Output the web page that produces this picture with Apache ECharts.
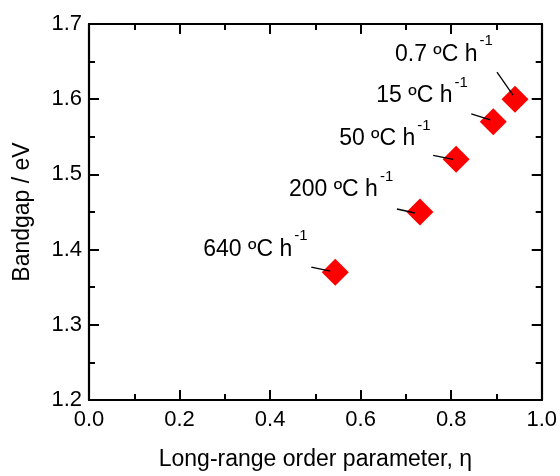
<!DOCTYPE html>
<html>
<head>
<meta charset="utf-8">
<script src="https://cdn.jsdelivr.net/npm/echarts@6/dist/echarts.min.js"></script>
<style>
  html, body { margin: 0; padding: 0; background: #fff; }
  #chart { width: 560px; height: 476px; }
</style>
</head>
<body>
<div id="chart"></div>
<script>
// Long-range order parameter and bandgap for each cooling rate
const coolingRates = ['640', '200', '50', '15', '0.7'];
const eta = [0.544, 0.731, 0.811, 0.893, 0.941];
const bandgap = [1.37, 1.45, 1.52, 1.57, 1.60];

// Axis ticks
const xTicks = { min: 0, max: 1, interval: 0.2 };
const yTicks = { min: 1.2, max: 1.7, interval: 0.1 };

// Annotation placement, in pixels relative to each marker centre
const labelOffsets = [[-132, -23], [-131, -22], [-117, -21], [-117, -26], [-120, -45]];
const leaderOffsets = [[-24, -5, -5, -1], [-23, -3, -5, 1], [-23, -4, -3, 0], [-22, -8, -3, -2], [-18, -27, -2, -4]];

const FONT = '"Liberation Sans", Arial, Helvetica, sans-serif';
const points = eta.map((x, i) => [x, bandgap[i]]);

const axisCommon = {
  axisLine: { show: true, onZero: false, lineStyle: { color: '#000', width: 2.2 } },
  axisTick: { show: true, inside: true, length: 10, lineStyle: { color: '#000', width: 2 } },
  minorTick: { show: true, splitNumber: 2, length: 6, lineStyle: { color: '#000', width: 2 } },
  splitLine: { show: false },
  minorSplitLine: { show: false }
};

function xAxis(pos, labels) {
  return Object.assign({}, axisCommon, {
    type: 'value', position: pos, min: xTicks.min, max: xTicks.max, interval: xTicks.interval,
    axisLabel: { show: labels, color: '#000', fontFamily: FONT, fontSize: 22, margin: 9,
      formatter: v => v.toFixed(1) },
    name: labels ? 'Long-range order parameter, η' : '',
    nameLocation: 'middle', nameGap: 48,
    nameTextStyle: { color: '#000', fontFamily: FONT, fontSize: 23 }
  });
}
function yAxis(pos, labels) {
  return Object.assign({}, axisCommon, {
    type: 'value', position: pos, min: yTicks.min, max: yTicks.max, interval: yTicks.interval,
    axisLabel: { show: labels, color: '#000', fontFamily: FONT, fontSize: 22, margin: 7,
      formatter: v => v.toFixed(1) },
    name: labels ? 'Bandgap / eV' : '',
    nameLocation: 'middle', nameGap: 55,
    nameTextStyle: { color: '#000', fontFamily: FONT, fontSize: 23 }
  });
}

const chart = echarts.init(document.getElementById('chart'), null, { renderer: 'canvas' });
chart.setOption({
  animation: false,
  backgroundColor: '#fff',
  grid: { left: 89, right: 17, top: 24, bottom: 74 },
  xAxis: [xAxis('bottom', true), xAxis('top', false)],
  yAxis: [yAxis('left', true), yAxis('right', false)],
  series: [
    {
      type: 'scatter',
      symbol: 'diamond',
      symbolSize: 27,
      itemStyle: { color: '#ff0000', opacity: 1 },
      data: points.map((p, i) => ({
        value: p,
        label: {
          show: true,
          position: 'inside',
          align: 'left',
          verticalAlign: 'middle',
          offset: labelOffsets[i],
          color: '#000',
          opacity: 1,
          formatter: '{a|' + coolingRates[i] + ' ºC h}{s|-1}',
          rich: {
            a: { fontFamily: FONT, fontSize: 23, color: '#000' },
            s: { fontFamily: FONT, fontSize: 15, color: '#000', padding: [0, 0, 26, 2] }
          }
        }
      })),
      emphasis: { disabled: true },
      z: 2
    },
    {
      // leader lines from each annotation to its marker
      type: 'custom',
      data: points,
      z: 3,
      silent: true,
      renderItem: function (params, api) {
        const c = api.coord([api.value(0), api.value(1)]);
        const o = leaderOffsets[params.dataIndex];
        return {
          type: 'line',
          shape: { x1: c[0] + o[0], y1: c[1] + o[1], x2: c[0] + o[2], y2: c[1] + o[3] },
          style: { stroke: '#000', lineWidth: 1.3 }
        };
      }
    }
  ]
});
</script>
</body>
</html>
